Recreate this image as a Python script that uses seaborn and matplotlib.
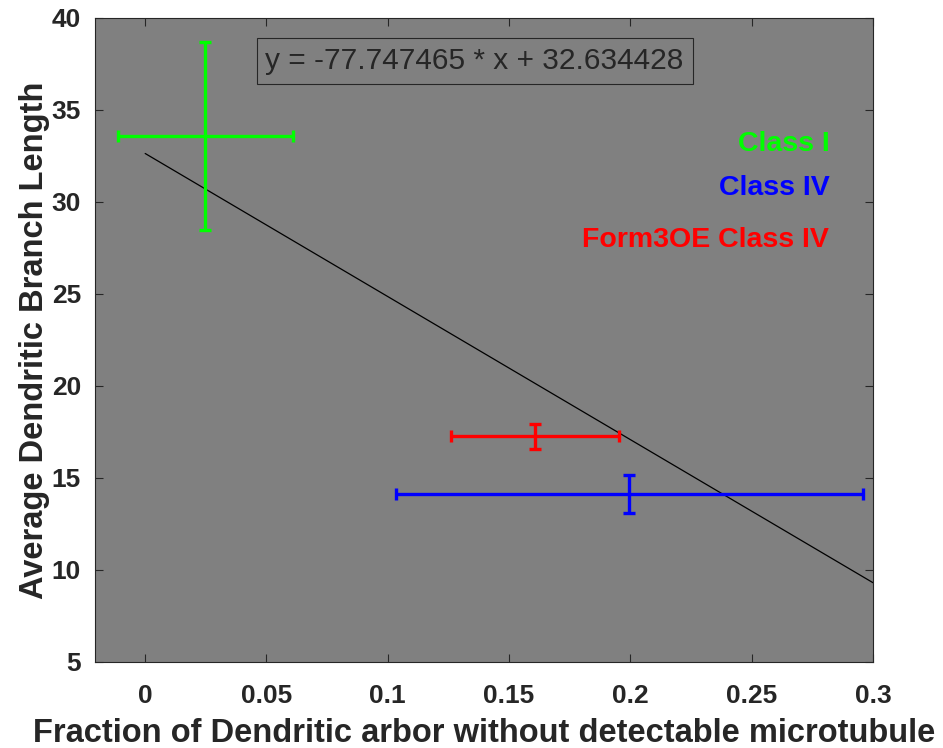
import numpy as np
import pandas as pd
import matplotlib
matplotlib.use('Agg')
import matplotlib.pyplot as plt
import seaborn as sns

# data
groups = ['Class I', 'Class IV', 'Form3OE Class IV']
colors = ['#00ff00', '#0000ff', '#ff0000']
frac_mean = [0.0248, 0.1996, 0.1607]
frac_err = [0.0362, 0.0963, 0.0346]
len_mean = [33.59, 14.13, 17.28]
len_err = [5.13, 1.03, 0.68]

slope = -77.747465
intercept = 32.634428
fit_x = [0, 0.3]

sns.set_style('ticks', {'axes.facecolor': '#808080'})
plt.rcParams['font.family'] = ['Liberation Sans', 'DejaVu Sans']

fig = plt.figure(figsize=(9.43, 7.48), dpi=100)
ax = fig.add_axes([0.1007, 0.115, 0.825, 0.861])

fit = pd.DataFrame({'x': fit_x})
fit['y'] = slope * fit['x'] + intercept
sns.lineplot(data=fit, x='x', y='y', color='black', lw=0.9, ax=ax)

for i in range(len(groups)):
    ax.errorbar(frac_mean[i], len_mean[i], xerr=frac_err[i], yerr=len_err[i],
                color=colors[i], lw=2.4, capsize=4, capthick=2.4, fmt='none')

ax.set_xlim(-0.0207, 0.3)
ax.set_ylim(5, 40)
ax.set_xticks([0, 0.05, 0.1, 0.15, 0.2, 0.25, 0.3])
ax.set_xticklabels(['0', '0.05', '0.1', '0.15', '0.2', '0.25', '0.3'])
ax.set_yticks(range(5, 41, 5))
ax.tick_params(direction='in', top=True, right=True, length=6, width=0.8,
               labelsize=19, colors='#262626')
ax.tick_params(axis='x', pad=16)
ax.tick_params(axis='y', pad=10)
for lab in ax.get_xticklabels() + ax.get_yticklabels():
    lab.set_fontweight('bold')
for s in ax.spines.values():
    s.set_color('#262626')
    s.set_linewidth(0.8)

ax.set_xlabel('Fraction of Dendritic arbor without detectable microtubule',
              fontsize=23.5, fontweight='bold', color='#262626', labelpad=7)
ax.set_ylabel('Average Dendritic Branch Length',
              fontsize=23.5, fontweight='bold', color='#262626', labelpad=1)

ax.text(0.0496, 37.65, 'y = %.6f * x + %.6f' % (slope, intercept),
        fontsize=21.5, va='center', ha='left',
        bbox=dict(boxstyle='square,pad=0.3', facecolor='#808080', edgecolor='#262626', lw=0.8))

legend_y = [33.17, 30.78, 27.95]
for i in range(len(groups)):
    ax.text(0.282, legend_y[i], groups[i], color=colors[i], fontsize=20.5,
            fontweight='bold', ha='right', va='center')

fig.savefig('out.png', dpi=100)
